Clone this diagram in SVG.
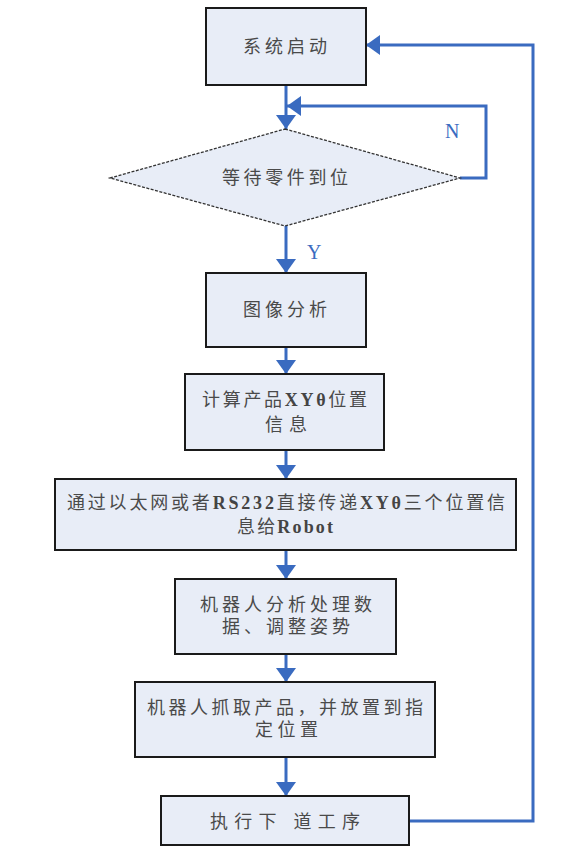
<svg xmlns="http://www.w3.org/2000/svg" width="564" height="861" viewBox="0 0 564 861">
<style>
.box{fill:#E8EDF7;stroke:#1a1a1a;stroke-width:2}
.dia{fill:#E8EDF7;stroke:#333;stroke-width:1.3;stroke-dasharray:3 1.5}
.t{font-family:"Liberation Serif","Noto Sans CJK SC",serif;font-size:18px;fill:#4a4a4a}
.lat{font-weight:bold;fill:#444}
.lbl{font-family:"Liberation Serif",serif;font-size:20px;fill:#3A6BC0}
.c{fill:none;stroke:#3A6BC0;stroke-width:3}
</style>
<defs>
<marker id="ah" markerUnits="userSpaceOnUse" markerWidth="14" markerHeight="20" refX="14" refY="10" orient="auto">
<path d="M0,0 L14,10 L0,20 Z" fill="#3A6BC0"/>
</marker>
</defs>
<g id="connectors">
<path class="c" d="M286,85 V129" marker-end="url(#ah)"/>
<path class="c" d="M460,178 H486 V106 H287" marker-end="url(#ah)"/>
<path class="c" d="M286,226 V273" marker-end="url(#ah)"/>
<path class="c" d="M286,347 V374" marker-end="url(#ah)"/>
<path class="c" d="M286,450 V479" marker-end="url(#ah)"/>
<path class="c" d="M286,550 V579" marker-end="url(#ah)"/>
<path class="c" d="M286,654 V682" marker-end="url(#ah)"/>
<path class="c" d="M286,757 V796" marker-end="url(#ah)"/>
<path class="c" d="M409,821 H533 V45 H366" marker-end="url(#ah)"/>
<text class="lbl" x="445" y="138">N</text>
<text class="lbl" x="307" y="259">Y</text>
</g>
<g id="n1">
<rect class="box" x="206" y="8" width="160" height="77"/>
<text class="t" x="243" y="53" textLength="84" lengthAdjust="spacing">系统启动</text>
</g>
<g id="n2">
<polygon class="dia" points="285,129 460,178 285,226 110,178"/>
<text class="t" x="222" y="184" textLength="126" lengthAdjust="spacing">等待零件到位</text>
</g>
<g id="n3">
<rect class="box" x="206" y="273" width="160" height="74"/>
<text class="t" x="243" y="316" textLength="84" lengthAdjust="spacing">图像分析</text>
</g>
<g id="n4">
<rect class="box" x="185" y="374" width="199" height="76"/>
<text class="t" x="202" y="406" textLength="165" lengthAdjust="spacing">计算产品<tspan class="lat">XYθ</tspan>位置</text>
<text class="t" x="265" y="431" textLength="42" lengthAdjust="spacing">信息</text>
</g>
<g id="n5">
<rect class="box" x="55" y="479" width="461" height="71"/>
<text class="t" x="67" y="509" textLength="438" lengthAdjust="spacing">通过以太网或者<tspan class="lat">RS232</tspan>直接传递<tspan class="lat">XYθ</tspan>三个位置信</text>
<text class="t" x="237" y="533" textLength="96" lengthAdjust="spacing">息给<tspan class="lat">Robot</tspan></text>
</g>
<g id="n6">
<rect class="box" x="175" y="579" width="221" height="75"/>
<text class="t" x="200" y="611" textLength="172" lengthAdjust="spacing">机器人分析处理数</text>
<text class="t" x="222" y="633" textLength="128" lengthAdjust="spacing">据、调整姿势</text>
</g>
<g id="n7">
<rect class="box" x="135" y="682" width="300" height="75"/>
<text class="t" x="147" y="714" textLength="276" lengthAdjust="spacing">机器人抓取产品，并放置到指</text>
<text class="t" x="255" y="736" textLength="63" lengthAdjust="spacing">定位置</text>
</g>
<g id="n8">
<rect class="box" x="161" y="796" width="248" height="49"/>
<text class="t" x="210" y="828" textLength="150" lengthAdjust="spacing">执行下 道工序</text>
</g>
</svg>
